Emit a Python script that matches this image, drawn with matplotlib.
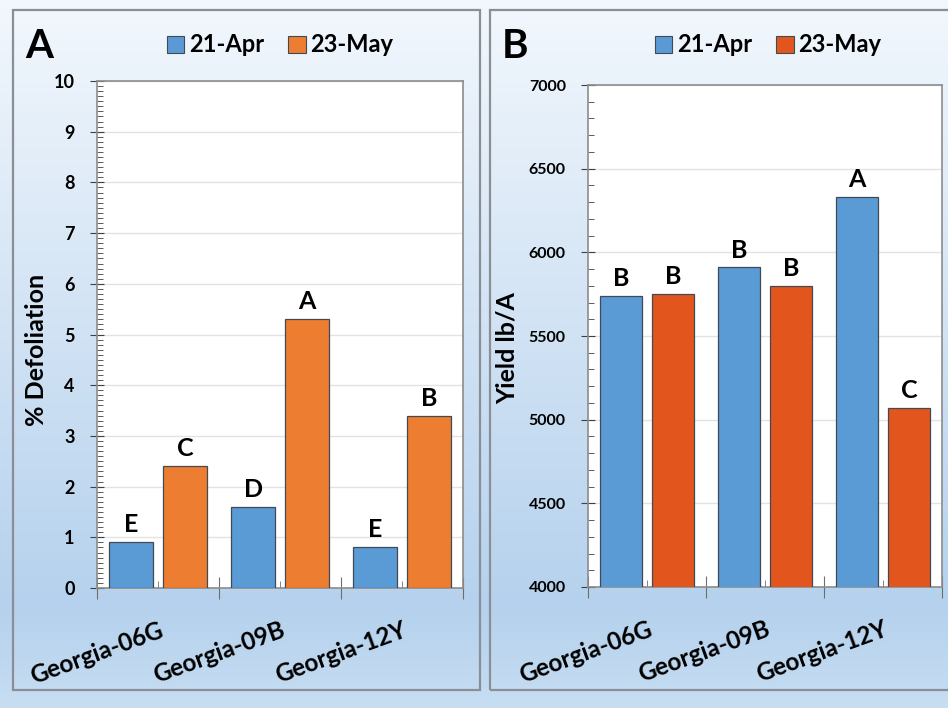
import numpy as np
import matplotlib
matplotlib.use('Agg')
import matplotlib.pyplot as plt
from matplotlib.patches import Rectangle, Patch
from matplotlib.ticker import MultipleLocator, FixedLocator

plt.rcParams['font.family'] = ['Lato', 'DejaVu Sans']
plt.rcParams['font.weight'] = 'bold'

# data
varieties = ['Georgia-06G', 'Georgia-09B', 'Georgia-12Y']
dates = ['21-Apr', '23-May']

defol_apr = [0.9, 1.6, 0.8]
defol_may = [2.4, 5.3, 3.4]
defol_apr_letters = ['E', 'D', 'E']
defol_may_letters = ['C', 'A', 'B']

yield_apr = [5740, 5910, 6330]
yield_may = [5750, 5800, 5070]
yield_apr_letters = ['B', 'B', 'A']
yield_may_letters = ['B', 'B', 'C']

blue = '#5B9BD5'
orange_a = '#ED7D31'
orange_b = '#E2561E'

fig = plt.figure(figsize=(9.48, 7.08), dpi=100)

# background gradient for the whole figure
bg = fig.add_axes([0, 0, 1, 1], zorder=-10)
stops = np.array([0.0, 0.86, 1.0])
cols = np.array([[0.95, 0.97, 0.99], [0.71, 0.82, 0.93], [0.78, 0.87, 0.95]])
yy = np.linspace(0, 1, 300)
grad = np.stack([np.interp(yy, stops, cols[:, k]) for k in range(3)], axis=-1)
bg.imshow(grad[:, None, :], aspect='auto', extent=[0, 1, 1, 0])
bg.set_xlim(0, 1)
bg.set_ylim(1, 0)
bg.axis('off')

# panel frames
for x0, w in [(13, 467), (490, 470)]:
    fig.patches.append(Rectangle((x0 / 948, 18 / 708), w / 948, 680 / 708,
                                 transform=fig.transFigure, fill=False,
                                 edgecolor='#8A8F96', lw=1.6, zorder=-5))


def draw_panel(ax, apr, may, apr_let, may_let, may_color, lim, major, minor, ylabel, tick_fs, off):
    x = np.arange(len(varieties))
    w = 0.36
    ax.set_facecolor('white')
    ax.bar(x - 0.22, apr, w, color=blue, edgecolor='#3F4A55', lw=0.9, zorder=3)
    ax.bar(x + 0.22, may, w, color=may_color, edgecolor='#3F4A55', lw=0.9, zorder=3)
    for xi, v, t in zip(x - 0.22, apr, apr_let):
        ax.text(xi, v + off, t, ha='center', va='bottom', fontsize=18, fontweight='bold')
    for xi, v, t in zip(x + 0.22, may, may_let):
        ax.text(xi, v + off, t, ha='center', va='bottom', fontsize=18, fontweight='bold')
    ax.set_ylim(*lim)
    ax.set_xlim(-0.5, len(varieties) - 0.5)
    ax.yaxis.set_major_locator(MultipleLocator(major))
    ax.yaxis.set_minor_locator(MultipleLocator(minor))
    ax.grid(axis='y', color='#E3E3E3', lw=1, zorder=0)
    ax.set_axisbelow(True)
    ax.xaxis.set_major_locator(FixedLocator(np.arange(len(varieties) + 1) - 0.5))
    ax.set_xticklabels([])
    ax.set_xticks(x, minor=True)
    ax.set_xticklabels(varieties, minor=True, rotation=20, ha='right',
                       rotation_mode='anchor', fontsize=17.5, fontweight='bold')
    ax.tick_params(axis='x', which='major', direction='inout', length=16, color='#6E6E6E')
    ax.tick_params(axis='x', which='minor', direction='in', length=5, color='#6E6E6E', pad=22)
    ax.tick_params(axis='y', which='major', direction='inout', length=10, color='#404040',
                   labelsize=tick_fs, pad=11)
    ax.tick_params(axis='y', which='minor', direction='in', length=4, color='#404040')
    for sp in ax.spines.values():
        sp.set_color('#8C8C8C')
        sp.set_linewidth(1.2)
    ax.set_ylabel(ylabel, fontsize=18, fontweight='bold')


ax1 = fig.add_axes([97 / 948, 1 - 588 / 708, 366 / 948, 507 / 708])
draw_panel(ax1, defol_apr, defol_may, defol_apr_letters, defol_may_letters, orange_a,
           (0, 10), 1, 0.1, '% Defoliation', 13, 0.12)

ax2 = fig.add_axes([588 / 948, 1 - 587 / 708, 354 / 948, 502 / 708])
draw_panel(ax2, yield_apr, yield_may, yield_apr_letters, yield_may_letters, orange_b,
           (4000, 7000), 500, 100, 'Yield lb/A', 11.5, 35)
ax1.yaxis.set_label_coords(-0.134, 0.47)
ax2.yaxis.set_label_coords(-0.195, 0.475)

# panel letters and legends
fig.text(25 / 948, 1 - 47 / 708, 'A', fontsize=29, fontweight='bold', va='center', ha='left')
fig.text(502 / 948, 1 - 47 / 708, 'B', fontsize=29, fontweight='bold', va='center', ha='left')

for cx, oc in [(280 / 948, orange_a), (768 / 948, orange_b)]:
    handles = [Patch(facecolor=blue, edgecolor='#3F4A55', lw=0.8),
               Patch(facecolor=oc, edgecolor='#3F4A55', lw=0.8)]
    fig.legend(handles, dates, loc='center', bbox_to_anchor=(cx, 1 - 45 / 708), ncol=2,
               frameon=False, prop={'size': 17, 'weight': 'bold'},
               handlelength=0.75, handleheight=0.75, handletextpad=0.2, columnspacing=1.0)

fig.savefig('out.png', dpi=100)
